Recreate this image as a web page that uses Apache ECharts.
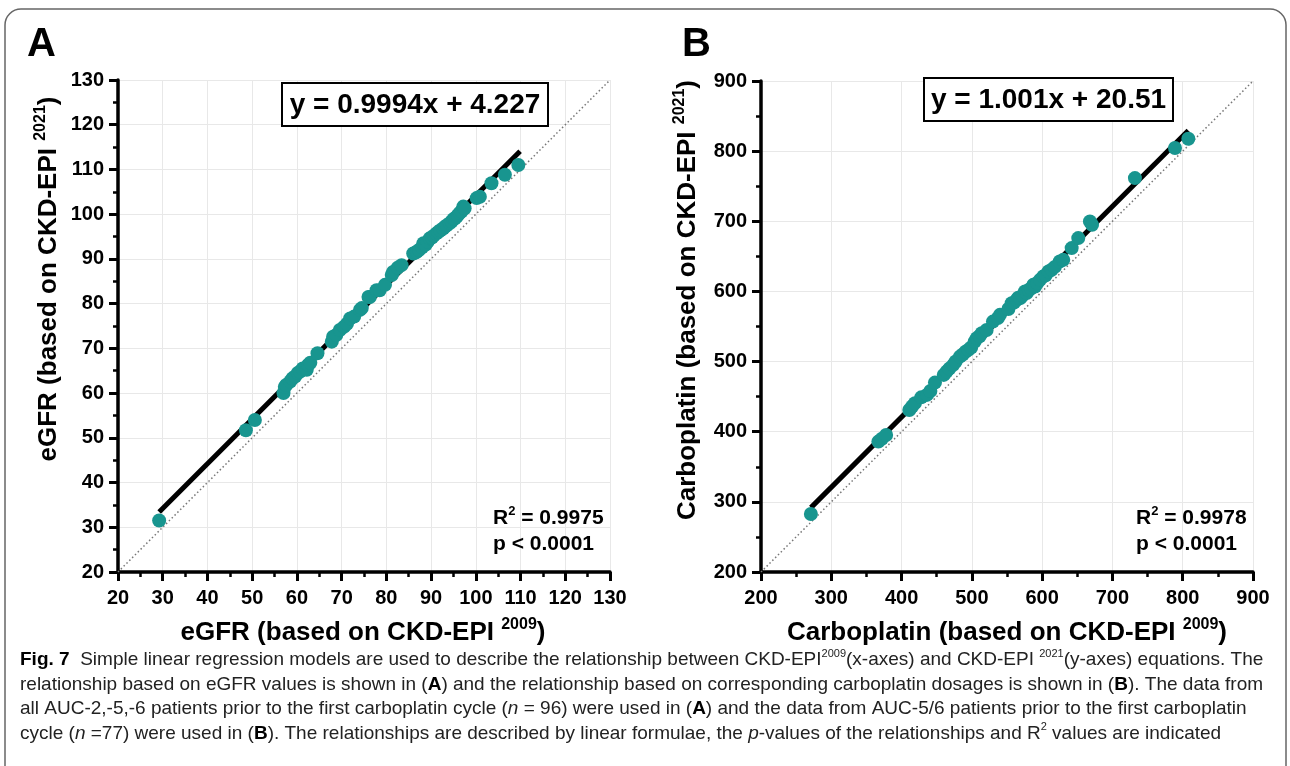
<!DOCTYPE html>
<html><head><meta charset="utf-8">
<script src="https://cdn.jsdelivr.net/npm/echarts/dist/echarts.min.js"></script>
<style>html,body{margin:0;padding:0;background:#fff}#c{width:1290px;height:766px}</style>
</head><body><div id="c"></div>
<script>
// ---------- Panel A: eGFR (CKD-EPI 2009 vs 2021) ----------
const egfr2009 = [29.2, 48.6, 50.6, 57.0, 57.3, 57.6, 58.5, 59.0, 59.6, 60.2, 60.7, 61.3, 62.2, 62.5, 63.0, 64.6,
  67.8, 68.1, 68.8, 69.6, 70.5, 71.2, 71.9, 72.8, 74.1, 74.5, 76.0, 76.3, 77.8, 78.5, 79.7, 81.2, 81.5, 82.5, 83.4,
  86.0, 86.5, 86.8, 87.3, 88.0, 88.3, 88.8, 89.2, 89.7, 90.2, 90.6, 91.2, 91.6, 92.1, 92.7, 93.1, 93.5, 94.2, 94.6,
  95.0, 95.3, 95.7, 96.0, 96.4, 96.8, 97.2, 97.5, 100.2, 100.9, 103.5, 106.5, 109.5];
const egfr2021 = [31.5, 51.7, 54.0, 60.0, 61.4, 61.8, 62.6, 63.3, 63.7, 64.5, 64.8, 65.5, 65.2, 66.3, 66.8, 68.9,
  71.5, 72.6, 73.0, 74.1, 74.8, 75.5, 76.7, 77.1, 78.6, 79.0, 81.5, 81.5, 83.0, 83.0, 84.2, 86.4, 87.1, 88.0, 88.6,
  91.2, 91.4, 91.6, 92.0, 92.6, 93.5, 93.2, 93.8, 94.6, 94.8, 95.2, 95.7, 96.0, 96.4, 96.8, 97.2, 97.5, 98.0, 98.4,
  98.9, 99.0, 99.4, 99.8, 100.3, 100.6, 101.7, 101.3, 103.6, 103.9, 106.9, 108.8, 111.0];
const fitA = [[29.2, 33.41], [109.9, 114.06]];     // y = 0.9994x + 4.227
const identityA = [[20, 20], [130, 130]];
const ticksA = {min: 20, max: 130, interval: 10};
const eqA = 'y = 0.9994x + 4.227';
const r2A = '0.9975';

// ---------- Panel B: Carboplatin (CKD-EPI 2009 vs 2021) ----------
const carbo2009 = [271, 367, 372, 378, 411, 415, 419, 428, 436, 441, 447.5, 460, 464, 468, 473.5, 477, 483, 487, 491,
  495, 499, 504, 507, 511, 514, 521, 530, 537, 540, 552, 556.6, 560, 563.7, 566, 569, 572, 575.5, 578, 581, 584,
  587.4, 590, 593, 597, 601.6, 605, 609, 613.5, 618, 625, 630, 642, 651.4, 668, 671, 732, 789, 808];
const carbo2021 = [282.7, 385.9, 390, 395.4, 431, 436, 440.7, 449, 452.5, 458, 470, 481, 485.7, 490, 495.3, 500,
  507.1, 510, 514, 516.7, 520, 528.5, 533.4, 536, 540.5, 545, 557, 562, 566.6, 575, 583.3, 584, 588, 591, 590.4, 594,
  599.9, 597.6, 602, 604, 609.4, 607, 612, 616.5, 621.2, 623, 628.4, 630.8, 635, 642.6, 645, 661.8, 676, 699.7, 695,
  761.6, 804.4, 817.7];
const fitB = [[271, 291.8], [808, 829.3]];          // y = 1.001x + 20.51
const identityB = [[200, 200], [900, 900]];
const ticksB = {min: 200, max: 900, interval: 100};
const eqB = 'y = 1.001x + 20.51';
const r2B = '0.9978';
const pText = 'p < 0.0001';

const TEAL = '#18958f';
const FONT = 'Liberation Sans, Arial, sans-serif';

function zip(a, b) { return a.map((v, i) => [v, b[i]]); }

function makeAxis(t, idx, isY) {
  return {
    type: 'value', gridIndex: idx, min: t.min, max: t.max, interval: t.interval,
    axisLine: {show: true, onZero: false, lineStyle: {color: '#000', width: 3.5}},
    axisTick: {show: true, length: 9, lineStyle: {color: '#000', width: 3}},
    minorTick: {show: true, splitNumber: 2, length: 5, lineStyle: {color: '#000', width: 2.5}},
    splitLine: {show: true, lineStyle: {color: '#e8e8e8', width: 1}},
    axisLabel: {color: '#000', fontSize: 20, fontWeight: 'bold', fontFamily: FONT, margin: isY ? 14 : 16,
      showMinLabel: true, showMaxLabel: true}
  };
}

const richTitle = {
  t: {fontSize: 26, fontWeight: 'bold', fontFamily: FONT, fill: '#000', lineHeight: 32},
  s: {fontSize: 16, fontWeight: 'bold', fontFamily: FONT, fill: '#000', verticalAlign: 'top', lineHeight: 32}
};
const richStat = {
  t: {fontSize: 21, fontWeight: 'bold', fontFamily: FONT, fill: '#000', lineHeight: 26},
  s: {fontSize: 13, fontWeight: 'bold', fontFamily: FONT, fill: '#000', verticalAlign: 'top', lineHeight: 26}
};
const capBase = {fontSize: 19, fontFamily: FONT, fill: '#222', lineHeight: 24};
const richCap = {
  n: Object.assign({}, capBase),
  f: Object.assign({}, capBase, {fontWeight: 'bold', fill: '#000'}),
  b: Object.assign({}, capBase, {fontWeight: 'bold', fill: '#000'}),
  i: Object.assign({}, capBase, {fontStyle: 'italic'}),
  s: Object.assign({}, capBase, {fontSize: 11, verticalAlign: 'top'})
};

function rtext(x, y, text, rich, align, rot) {
  const el = {type: 'text', x: x, y: y, z: 100, silent: true,
    style: {text: text, rich: rich, align: align || 'left', verticalAlign: 'middle'}};
  if (rot) el.rotation = rot;
  return el;
}
function eqBox(x, y, w, h, text) {
  return [
    {type: 'rect', z: 100, shape: {x: x, y: y, width: w, height: h}, style: {fill: '#fff', stroke: '#000', lineWidth: 2}},
    {type: 'text', x: x + w / 2, y: y + h / 2 + 1, z: 101, style: {text: text, fontSize: 28, fontWeight: 'bold',
      fontFamily: FONT, fill: '#000', align: 'center', verticalAlign: 'middle'}}
  ];
}

const captionLines = [
  '{f|Fig. 7}{n|  Simple linear regression models are used to describe the relationship between CKD-EPI}{s|2009}{n|(x-axes) and CKD-EPI }{s|2021}{n|(y-axes) equations. The}',
  '{n|relationship based on eGFR values is shown in (}{b|A}{n|) and the relationship based on corresponding carboplatin dosages is shown in (}{b|B}{n|). The data from}',
  '{n|all AUC-2,-5,-6 patients prior to the first carboplatin cycle (}{i|n}{n| = 96) were used in (}{b|A}{n|) and the data from AUC-5/6 patients prior to the first carboplatin}',
  '{n|cycle (}{i|n}{n| =77) were used in (}{b|B}{n|). The relationships are described by linear formulae, the }{i|p}{n|-values of the relationships and R}{s|2}{n| values are indicated}'
];

const graphics = [
  {type: 'rect', z: 100, shape: {x: 5, y: 9, width: 1281, height: 820, r: 16}, style: {fill: 'none', stroke: '#666', lineWidth: 1.5}, silent: true},
  {type: 'text', x: 27, y: 45, z: 100, style: {text: 'A', fontSize: 40, fontWeight: 'bold', fontFamily: FONT, fill: '#000', verticalAlign: 'middle'}},
  {type: 'text', x: 682, y: 45, z: 100, style: {text: 'B', fontSize: 40, fontWeight: 'bold', fontFamily: FONT, fill: '#000', verticalAlign: 'middle'}},
  ...eqBox(282, 83, 266, 43, eqA),
  ...eqBox(924, 78, 249, 43, eqB),
  rtext(493, 518, '{t|R}{s|2}{t| = ' + r2A + '}', richStat),
  rtext(493, 544, '{t|' + pText + '}', richStat),
  rtext(1136, 518, '{t|R}{s|2}{t| = ' + r2B + '}', richStat),
  rtext(1136, 544, '{t|' + pText + '}', richStat),
  rtext(363, 633, '{t|eGFR (based on CKD-EPI }{s|2009}{t|)}', richTitle, 'center'),
  rtext(1007, 633, '{t|Carboplatin (based on CKD-EPI }{s|2009}{t|)}', richTitle, 'center'),
  rtext(49, 279, '{t|eGFR (based on CKD-EPI }{s|2021}{t|)}', richTitle, 'center', Math.PI / 2),
  rtext(688, 300, '{t|Carboplatin (based on CKD-EPI }{s|2021}{t|)}', richTitle, 'center', Math.PI / 2)
];
captionLines.forEach((l, k) => graphics.push(rtext(20, 660 + k * 24.5, l, richCap)));

const chart = echarts.init(document.getElementById('c'), null, {renderer: 'canvas'});
chart.setOption({
  backgroundColor: '#fff',
  animation: false,
  grid: [
    {left: 118, top: 80, width: 492, height: 492},
    {left: 761, top: 81, width: 492, height: 491}
  ],
  xAxis: [makeAxis(ticksA, 0, false), makeAxis(ticksB, 1, false)],
  yAxis: [makeAxis(ticksA, 0, true), makeAxis(ticksB, 1, true)],
  series: [
    {type: 'line', xAxisIndex: 0, yAxisIndex: 0, data: identityA, symbol: 'none', z: 1,
      lineStyle: {color: '#777', width: 1.5, type: [1.5, 2.5]}},
    {type: 'line', xAxisIndex: 0, yAxisIndex: 0, data: fitA, symbol: 'none', z: 2,
      lineStyle: {color: '#000', width: 5}},
    {type: 'scatter', xAxisIndex: 0, yAxisIndex: 0, data: zip(egfr2009, egfr2021), symbolSize: 14, z: 3,
      itemStyle: {color: TEAL, opacity: 1}},
    {type: 'line', xAxisIndex: 1, yAxisIndex: 1, data: identityB, symbol: 'none', z: 1,
      lineStyle: {color: '#777', width: 1.5, type: [1.5, 2.5]}},
    {type: 'line', xAxisIndex: 1, yAxisIndex: 1, data: fitB, symbol: 'none', z: 2,
      lineStyle: {color: '#000', width: 5}},
    {type: 'scatter', xAxisIndex: 1, yAxisIndex: 1, data: zip(carbo2009, carbo2021), symbolSize: 14, z: 3,
      itemStyle: {color: TEAL, opacity: 1}}
  ],
  graphic: graphics
});
</script></body></html>
